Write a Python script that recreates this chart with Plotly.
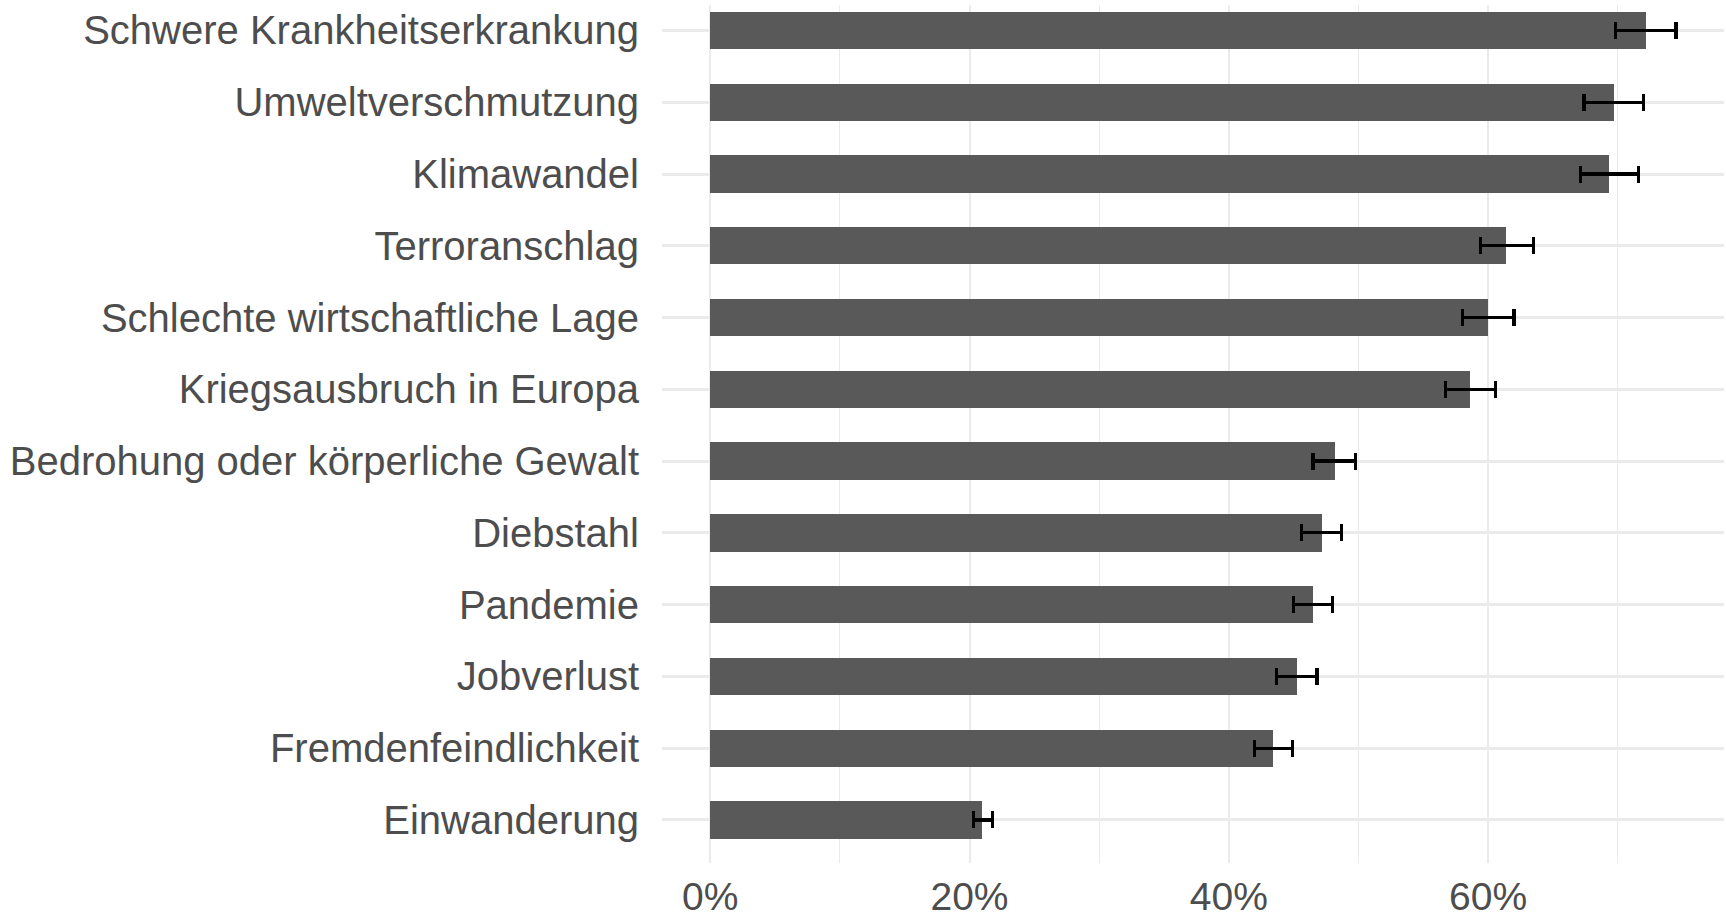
import plotly.graph_objects as go

# categories listed top to bottom as in the picture
categories = [
    "Schwere Krankheitserkrankung",
    "Umweltverschmutzung",
    "Klimawandel",
    "Terroranschlag",
    "Schlechte wirtschaftliche Lage",
    "Kriegsausbruch in Europa",
    "Bedrohung oder körperliche Gewalt",
    "Diebstahl",
    "Pandemie",
    "Jobverlust",
    "Fremdenfeindlichkeit",
    "Einwanderung",
]
share = [72.2, 69.7, 69.3, 61.4, 60.0, 58.6, 48.2, 47.2, 46.5, 45.3, 43.4, 21.0]
ci_low = [69.8, 67.4, 67.1, 59.4, 58.0, 56.7, 46.5, 45.6, 45.0, 43.7, 42.0, 20.3]
ci_high = [74.5, 72.0, 71.6, 63.5, 62.0, 60.6, 49.8, 48.7, 48.0, 46.8, 44.9, 21.8]

err_plus = [h - v for h, v in zip(ci_high, share)]
err_minus = [v - l for v, l in zip(share, ci_low)]

FONT = "Liberation Sans, Arial, sans-serif"
GRID = "#ebebeb"

fig = go.Figure(go.Bar(
    x=share,
    y=categories,
    orientation="h",
    width=0.52,
    marker=dict(color="#595959", line=dict(width=0)),
    error_x=dict(
        type="data",
        symmetric=False,
        array=err_plus,
        arrayminus=err_minus,
        color="black",
        thickness=3.2,
        width=8.5,
    ),
    showlegend=False,
))

fig.update_layout(
    width=1726,
    height=919,
    margin=dict(l=662, r=2, t=5, b=56),
    paper_bgcolor="white",
    plot_bgcolor="white",
    font=dict(family=FONT, size=40, color="#4d4d4d"),
    bargap=0,
)

fig.update_xaxes(
    range=[-3.72, 78.2],
    tick0=0,
    dtick=20,
    ticksuffix="%",
    tickfont=dict(size=39),
    showgrid=True,
    gridcolor=GRID,
    gridwidth=2.2,
    minor=dict(dtick=10, tick0=0, showgrid=True, gridcolor=GRID, gridwidth=1.2),
    zeroline=False,
    showline=False,
    ticks="",
    ticklabelstandoff=7,
    automargin=False,
    fixedrange=True,
)

fig.update_yaxes(
    categoryorder="array",
    categoryarray=categories[::-1],
    range=[-0.6, 11.355],
    showgrid=True,
    gridcolor=GRID,
    gridwidth=2.6,
    zeroline=False,
    showline=False,
    ticks="",
    ticklabelstandoff=22,
    automargin=False,
    fixedrange=True,
)

# drop the browser's default body margin so the figure fills the window exactly
fig.write_html(
    "out.html",
    config={"displayModeBar": False},
    post_script="document.body.style.margin='0';document.body.style.overflow='hidden';",
)
